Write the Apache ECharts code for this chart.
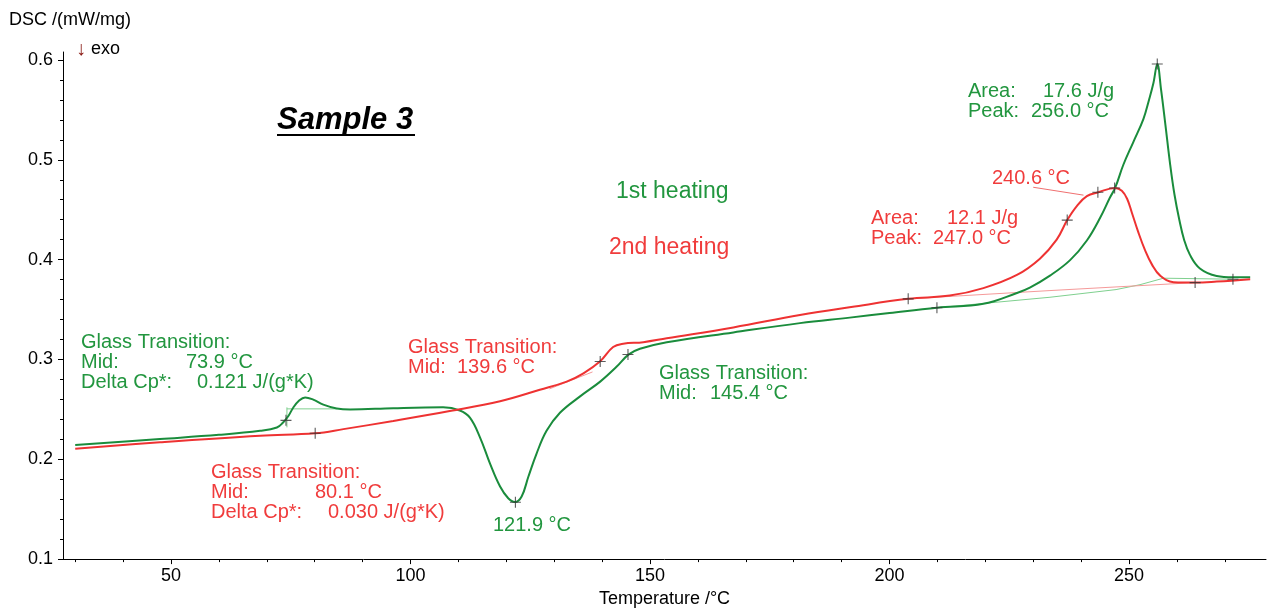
<!DOCTYPE html>
<html>
<head>
<meta charset="utf-8">
<script src="https://cdn.jsdelivr.net/npm/echarts@6/dist/echarts.min.js"></script>
<style>
html,body{margin:0;padding:0;background:#fff;}
#main{width:1269px;height:613px;}
</style>
</head>
<body>
<div id="main"></div>
<script>
// ---- data ----
var greenT = [30, 47.7, 60, 68.6, 72.1, 73.4, 74.5, 75.5, 76.6, 78.0, 79.7, 81.8, 84.6, 87.4, 96.4, 106.8, 110.3, 112.4, 114.5, 116.6, 118.7, 120.4, 121.8, 123.2, 124.6, 126.3, 128.4, 131.2, 135.4, 139.6, 143.0, 145.5, 147.9, 153.5, 167.4, 181.3, 191.7, 200, 209.9, 219.6, 226.6, 229.3, 233.5, 237.7, 241.2, 244.0, 246.0, 247.1, 248.8, 250.9, 253.0, 254.2, 255.1, 255.9, 256.7, 257.6, 258.6, 259.5, 260.5, 261.5, 262.7, 264.8, 268.3, 271.7, 275.3];
var greenV = [0.2144, 0.2203, 0.2245, 0.2285, 0.2318, 0.2368, 0.2433, 0.2516, 0.2581, 0.262, 0.2598, 0.2548, 0.2509, 0.2499, 0.2512, 0.2520, 0.2489, 0.2417, 0.222, 0.1957, 0.1727, 0.161, 0.1572, 0.1628, 0.1825, 0.2055, 0.2285, 0.2466, 0.263, 0.2778, 0.2926, 0.3048, 0.3107, 0.3173, 0.3271, 0.3364, 0.3419, 0.3465, 0.3518, 0.3557, 0.3666, 0.372, 0.384, 0.3995, 0.4192, 0.4422, 0.462, 0.4718, 0.4948, 0.5178, 0.5408, 0.5605, 0.577, 0.596, 0.570, 0.535, 0.495, 0.465, 0.440, 0.420, 0.405, 0.3912, 0.3837, 0.3824, 0.3824];

var redT = [30, 47.7, 68.6, 80.1, 86.0, 96.4, 108.2, 118.7, 127.0, 132.6, 136.1, 139.6, 142.3, 144.4, 148.6, 153.5, 167.4, 181.3, 192, 203.9, 212.6, 219.6, 226.6, 231.4, 234.9, 237.1, 239.1, 241.2, 243.6, 247.1, 248.5, 249.6, 250.6, 251.9, 253.3, 254.8, 256.5, 259.3, 263.8, 268.3, 275.3];
var redV = [0.2105, 0.2170, 0.2236, 0.226, 0.2302, 0.2384, 0.2483, 0.2581, 0.2696, 0.2778, 0.2861, 0.2982, 0.3124, 0.3157, 0.3173, 0.3212, 0.3321, 0.3445, 0.3525, 0.3607, 0.364, 0.3715, 0.3847, 0.401, 0.420, 0.4396, 0.4537, 0.4636, 0.4675, 0.4718, 0.469, 0.461, 0.447, 0.428, 0.410, 0.395, 0.384, 0.3774, 0.377, 0.378, 0.3804];

// baselines / construction lines
var greenBaseT = [209.9, 233.5, 247.3, 252.3, 257.2, 271.7];
var greenBaseV = [0.3518, 0.3623, 0.370, 0.3749, 0.3814, 0.3804];
var redBaseT = [203.9, 233.5, 263.8];
var redBaseV = [0.3607, 0.369, 0.377];
var greenTgVertT = [74.2, 74.2];
var greenTgVertV = [0.232, 0.252];
var greenTgHorT = [74.2, 84.6];
var greenTgHorV = [0.2505, 0.2505];
var redTgT = [129, 138];
var redTgV = [0.2705, 0.2875];
var leaderT = [230.0, 240.5];
var leaderV = [0.4725, 0.4646];

// evaluation marks (+)
var greenMarkT = [74.0, 121.9, 145.4, 209.9, 255.9, 271.7];
var greenMarkV = [0.239, 0.157, 0.305, 0.3518, 0.596, 0.3804];
var redMarkT = [80.1, 139.6, 203.9, 237.1, 243.5, 247.0, 263.8];
var redMarkV = [0.226, 0.298, 0.3607, 0.4396, 0.4675, 0.4718, 0.377];

// ticks
var xTickLabels = [50, 100, 150, 200, 250];
var xMinorTicks = [30, 40, 60, 70, 80, 90, 110, 120, 130, 140, 160, 170, 180, 190, 210, 220, 230, 240, 260, 270];
var yTickLabels = [0.1, 0.2, 0.3, 0.4, 0.5, 0.6];
var yMinorTicks = [0.12, 0.14, 0.16, 0.18, 0.22, 0.24, 0.26, 0.28, 0.32, 0.34, 0.36, 0.38, 0.42, 0.44, 0.46, 0.48, 0.52, 0.54, 0.56, 0.58];

// ---- chart ----
var FONT = "'Liberation Sans', Arial, 'DejaVu Sans', sans-serif";
var GREEN = '#1a8c3c', GREEN_T = '#22963f', RED = '#ee3232', RED_T = '#f03c3c';
var LGREEN = '#7fd08f', LRED = '#f59a9a', MARK = '#333333';
var XMIN = 27.45, XMAX = 278.6, YMIN = 0.1, YMAX = 0.608;

function zip(a, b) { return a.map(function (v, i) { return [v, b[i]]; }); }
function thin(name, t, v, color, z) {
  return { name: name, type: 'line', data: zip(t, v), showSymbol: false, symbol: 'none',
    lineStyle: { color: color, width: 1 }, z: z || 2, silent: true };
}
var plus = 'path://M4.5,0h1v10h-1z M0,4.5h10v1h-10z';

function txt(x, y, s, color, size, extra) {
  var st = { text: s, fill: color, font: (size || 20) + 'px ' + FONT, verticalAlign: 'middle', align: 'left' };
  if (extra) { for (var k in extra) st[k] = extra[k]; }
  return { type: 'text', x: x, y: y, z: 100, style: st };
}

var graphics = [
  txt(9, 20, 'DSC /(mW/mg)', '#000', 18),
  { type: 'text', x: 76, y: 49, z: 100, style: { text: '{a|↓} {b|exo}', font: '18px ' + FONT, verticalAlign: 'middle',
      rich: { a: { fill: '#8a1a14', font: 'bold 20px ' + FONT }, b: { fill: '#000', font: '18px ' + FONT } } } },
  txt(277, 120, 'Sample 3', '#000', 31, { font: 'italic bold 31px ' + FONT }),
  { type: 'line', z: 100, shape: { x1: 277, y1: 135, x2: 415, y2: 135 }, style: { stroke: '#000', lineWidth: 2 } },
  txt(616, 192, '1st heating', GREEN_T, 23),
  txt(609, 248, '2nd heating', RED_T, 23),
  // green glass transition (left)
  txt(81, 342, 'Glass Transition:', GREEN_T),
  txt(81, 362, 'Mid:', GREEN_T), txt(186, 362, '73.9 °C', GREEN_T),
  txt(81, 382, 'Delta Cp*:', GREEN_T), txt(197, 382, '0.121 J/(g*K)', GREEN_T),
  // red glass transition (bottom)
  txt(211, 472, 'Glass Transition:', RED_T),
  txt(211, 492, 'Mid:', RED_T), txt(315, 492, '80.1 °C', RED_T),
  txt(211, 512, 'Delta Cp*:', RED_T), txt(328, 512, '0.030 J/(g*K)', RED_T),
  // red glass transition (middle)
  txt(408, 347, 'Glass Transition:', RED_T),
  txt(408, 367, 'Mid:', RED_T), txt(457, 367, '139.6 °C', RED_T),
  // green glass transition (middle)
  txt(659, 373, 'Glass Transition:', GREEN_T),
  txt(659, 393, 'Mid:', GREEN_T), txt(710, 393, '145.4 °C', GREEN_T),
  txt(493, 525, '121.9 °C', GREEN_T),
  // green peak
  txt(968, 91, 'Area:', GREEN_T), txt(1043, 91, '17.6 J/g', GREEN_T),
  txt(968, 111, 'Peak:', GREEN_T), txt(1031, 111, '256.0 °C', GREEN_T),
  // red peak
  txt(992, 178, '240.6 °C', RED_T),
  txt(871, 218, 'Area:', RED_T), txt(947, 218, '12.1 J/g', RED_T),
  txt(871, 238, 'Peak:', RED_T), txt(933, 238, '247.0 °C', RED_T)
];

var chart = echarts.init(document.getElementById('main'), null, { renderer: 'canvas' });
chart.setOption({
  animation: false,
  backgroundColor: '#fff',
  grid: { left: 63, right: 3, top: 52, bottom: 46, containLabel: false },
  xAxis: [{
    type: 'value', min: XMIN, max: XMAX,
    axisLine: { show: true, onZero: false, lineStyle: { color: '#000', width: 1 } },
    axisTick: { show: true, customValues: xMinorTicks, length: 3, lineStyle: { color: '#000' } },
    axisLabel: { customValues: xTickLabels, color: '#000', fontSize: 18, fontFamily: FONT, margin: 8 },
    splitLine: { show: false },
    name: 'Temperature /°C', nameLocation: 'middle', nameGap: 27,
    nameTextStyle: { color: '#000', fontSize: 18, fontFamily: FONT }
  }, {
    type: 'value', min: XMIN, max: XMAX, position: 'bottom',
    axisLine: { show: false },
    axisTick: { show: true, customValues: xTickLabels, length: 5, lineStyle: { color: '#000' } },
    axisLabel: { show: false }, splitLine: { show: false }
  }],
  yAxis: [{
    type: 'value', min: YMIN, max: YMAX,
    axisLine: { show: true, onZero: false, lineStyle: { color: '#000', width: 1 } },
    axisTick: { show: true, customValues: yTickLabels, length: 5, lineStyle: { color: '#000' } },
    axisLabel: { customValues: yTickLabels, color: '#000', fontSize: 18, fontFamily: FONT, margin: 10,
      formatter: function (v) { return (+v).toFixed(1); } },
    splitLine: { show: false }
  }, {
    type: 'value', min: YMIN, max: YMAX, position: 'left',
    axisLine: { show: false },
    axisTick: { show: true, customValues: yMinorTicks, length: 3, lineStyle: { color: '#000' } },
    axisLabel: { show: false }, splitLine: { show: false }
  }],
  series: [
    thin('greenBase', greenBaseT, greenBaseV, LGREEN),
    thin('redBase', redBaseT, redBaseV, LRED),
    thin('greenTg1', greenTgVertT, greenTgVertV, LGREEN),
    thin('greenTg2', greenTgHorT, greenTgHorV, LGREEN),
    thin('redTg', redTgT, redTgV, LRED),
    thin('leader', leaderT, leaderV, '#f07070'),
    { name: '1st heating', type: 'line', data: zip(greenT, greenV), showSymbol: false, symbol: 'none',
      smooth: 0.4, lineStyle: { color: GREEN, width: 2 }, z: 3 },
    { name: '2nd heating', type: 'line', data: zip(redT, redV), showSymbol: false, symbol: 'none',
      smooth: 0.4, lineStyle: { color: RED, width: 2 }, z: 4 },
    { name: 'marksG', type: 'scatter', data: zip(greenMarkT, greenMarkV), symbol: plus, symbolSize: 11,
      itemStyle: { color: MARK }, z: 10, silent: true },
    { name: 'marksR', type: 'scatter', data: zip(redMarkT, redMarkV), symbol: plus, symbolSize: 11,
      itemStyle: { color: MARK }, z: 10, silent: true }
  ],
  graphic: graphics
});
</script>
</body>
</html>
